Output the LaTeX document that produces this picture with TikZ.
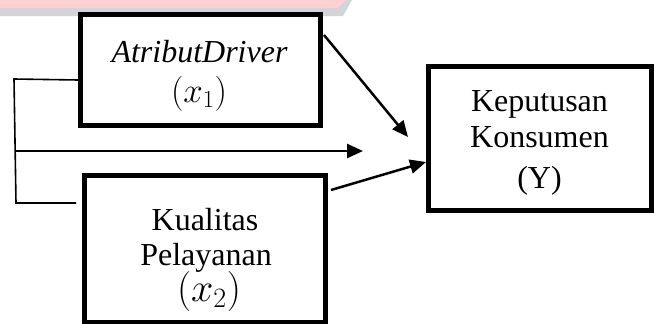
\documentclass[tikz,border=0pt]{standalone}
\usepackage{fix-cm}
\usepackage{fontspec}
\setmainfont{Liberation Serif}
\usetikzlibrary{arrows.meta,calc}

\definecolor{bandpink}{HTML}{FFD0D2}
\definecolor{bandgrey}{HTML}{D3D3DA}

\tikzset{
  varbox/.style={draw, line width=5pt, inner sep=0pt},
  lbl/.style={font=\fontsize{32}{36}\selectfont, inner sep=0pt, anchor=base},
  link/.style={line width=2.5pt, -{Triangle[length=16pt,width=14pt]}},
  bracket/.style={line width=1.6pt}
}

\begin{document}
\begin{tikzpicture}[x=1pt,y=-1pt]
\useasboundingbox (0,0) rectangle (654,324);

% banner strip along the top edge
\fill[bandgrey] (0,0) -- (352,0) -- (343,16) -- (0,16) -- cycle;
\fill[bandpink] (0,0) -- (346,0) -- (338,8) -- (0,8) -- cycle;

% variable boxes
\node[varbox, minimum width=240pt, minimum height=111pt] (b1) at (200.5,70) {};
\node[varbox, minimum width=241pt, minimum height=146.5pt] (b2) at (205,248.75) {};
\node[varbox, minimum width=223pt, minimum height=144pt] (b3) at (540,138.5) {};

% box labels
\node[lbl] (t1a) at (199.5,62) {\itshape AtributDriver};
\node[lbl, font=\fontsize{35}{40}\selectfont] (t1b) at (199,102) {$(x_1)$};
\node[lbl] (t2a) at (205,230) {Kualitas};
\node[lbl] (t2b) at (206,265) {Pelayanan};
\node[lbl, font=\fontsize{40}{46}\selectfont] (t2c) at (209,301) {$(x_2)$};
\node[lbl] (t3a) at (539.5,111) {Keputusan};
\node[lbl] (t3b) at (539.5,147) {Konsumen};
\node[lbl] (t3c) at (539.5,188) {(Y)};

% bracket joining both predictors
\coordinate (bktop) at (14,79);
\coordinate (bkmid) at (15,151);
\coordinate (bkbot) at (16,203);
\coordinate (bkend) at (76,203);
\draw[bracket] ($(b1.west)+(0,10)$) -- (bktop) -- (bkbot) -- (bkend);

% arrow tips
\coordinate (tipA) at (408,137);
\coordinate (tipM) at (363,151);

% influence arrows
\draw[link] ($(b1.north east)+(1,23)$) -- (tipA);
\draw[link] (bkmid) -- (tipM);
\draw[link] ($(b2.north east)+(3,17)$) -- ($(b3.west)+(0,23.5)$);
\end{tikzpicture}
\end{document}
